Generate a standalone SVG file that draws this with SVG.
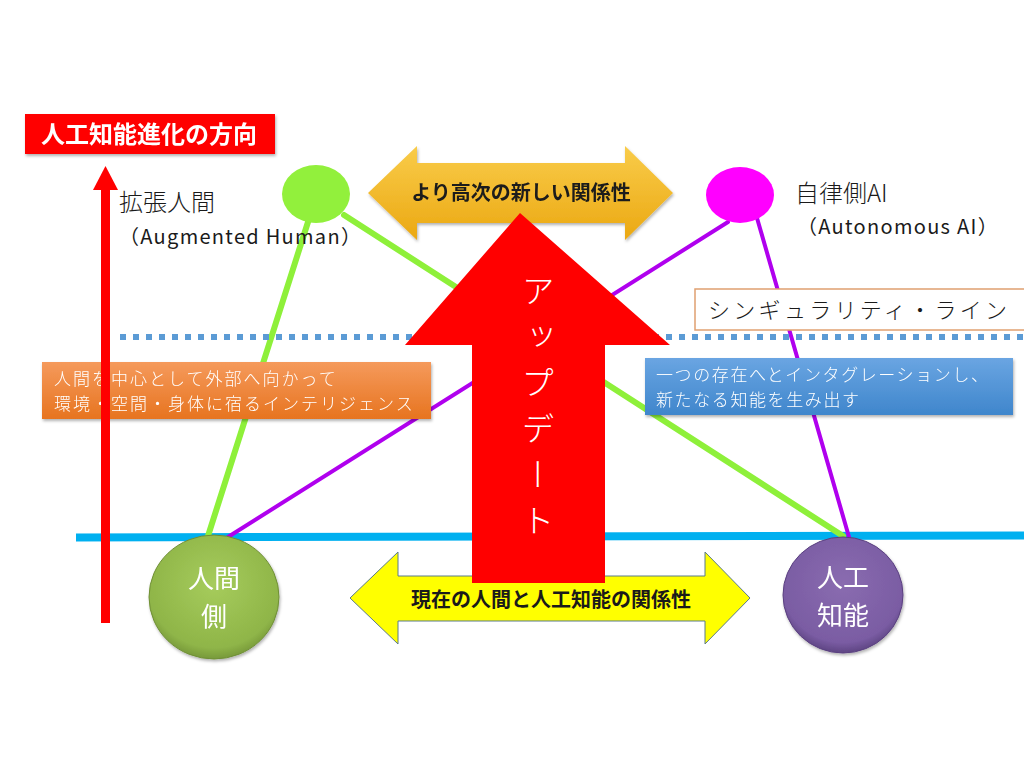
<svg xmlns="http://www.w3.org/2000/svg" width="1024" height="768" viewBox="0 0 1024 768">
<defs>
  <linearGradient id="gOrange" x1="0" y1="0" x2="0" y2="1">
    <stop offset="0" stop-color="#f59a5c"/>
    <stop offset="1" stop-color="#e7741f"/>
  </linearGradient>
  <linearGradient id="gBlue" x1="0" y1="0" x2="0" y2="1">
    <stop offset="0" stop-color="#6aa5e2"/>
    <stop offset="1" stop-color="#3f86cc"/>
  </linearGradient>
  <linearGradient id="gGold" x1="0" y1="0" x2="0" y2="1">
    <stop offset="0" stop-color="#f9cc4a"/>
    <stop offset="1" stop-color="#eba812"/>
  </linearGradient>
  <radialGradient id="gGreen" cx="0.5" cy="0.4" r="0.6">
    <stop offset="0" stop-color="#a6cc5c"/>
    <stop offset="0.85" stop-color="#8fb548"/>
    <stop offset="1" stop-color="#77993a"/>
  </radialGradient>
  <radialGradient id="gPurple" cx="0.5" cy="0.4" r="0.6">
    <stop offset="0" stop-color="#8a6cb0"/>
    <stop offset="0.85" stop-color="#7a5ca3"/>
    <stop offset="1" stop-color="#5e4583"/>
  </radialGradient>
  <filter id="shadow" x="-10%" y="-10%" width="120%" height="130%">
    <feDropShadow dx="1" dy="2" stdDeviation="1.5" flood-color="#000" flood-opacity="0.3"/>
  </filter>
</defs>
<style>
  .jp { font-family: "Noto Sans CJK JP", "Noto Sans", sans-serif; }
  .bold { font-weight: 700; }
  .lite { font-weight: 300; }
  .green { stroke: #8ef03a; stroke-width: 6; stroke-linecap: round; }
  .purple { stroke: #b000ee; stroke-width: 4; stroke-linecap: round; }
</style>
<rect width="1024" height="768" fill="#ffffff"/>

<g id="lines">
  <line x1="76" y1="537.5" x2="1024" y2="535.5" stroke="#00b0f0" stroke-width="8"/>
  <line x1="308" y1="222" x2="208" y2="536" class="green"/>
  <line x1="344" y1="215" x2="843" y2="536" class="green"/>
  <line x1="728" y1="222" x2="228" y2="537" class="purple"/>
  <line x1="757" y1="218" x2="849" y2="537" class="purple"/>
  <line x1="120" y1="337" x2="1024" y2="337" stroke="#5b9bd5" stroke-width="6" stroke-dasharray="6 7"/>
</g>

<g id="orange-box" filter="url(#shadow)">
  <rect x="42" y="362" width="389" height="57" fill="url(#gOrange)"/>
  <text class="jp lite" font-size="17" fill="#ffffff" letter-spacing="2"><tspan x="54" y="385">人間を中心として外部へ向かって</tspan><tspan x="54" y="410">環境・空間・身体に宿るインテリジェンス</tspan></text>
</g>

<g id="blue-box" filter="url(#shadow)">
  <rect x="645" y="358" width="368" height="57" fill="url(#gBlue)"/>
  <text class="jp lite" font-size="17" fill="#ffffff" letter-spacing="1.6"><tspan x="656" y="381">一つの存在へとインタグレーションし、</tspan><tspan x="656" y="406">新たなる知能を生み出す</tspan></text>
</g>

<g id="direction-arrow">
  <rect x="101" y="188" width="9" height="435" fill="#ff0000"/>
  <polygon points="105.5,166 93,190 118,190" fill="#ff0000"/>
</g>

<g id="title" filter="url(#shadow)">
  <rect x="25" y="114" width="250" height="40" fill="#ff0000"/>
  <text class="jp bold" x="149" y="143" font-size="24" fill="#ffffff" text-anchor="middle">人工知能進化の方向</text>
</g>

<g id="augmented-node">
  <ellipse cx="316" cy="194" rx="34" ry="29" fill="#92f03c"/>
  <text class="jp" fill="#1a1a1a"><tspan class="lite" x="119" y="211" font-size="24">拡張人間</tspan><tspan x="119" y="244" font-size="20" letter-spacing="1.3">（Augmented Human）</tspan></text>
</g>

<g id="autonomous-node">
  <ellipse cx="740" cy="195" rx="34" ry="28" fill="#ff00ff"/>
  <text class="jp" fill="#1a1a1a"><tspan class="lite" x="795" y="202" font-size="24">自律側AI</tspan><tspan x="797" y="234" font-size="20" letter-spacing="1.3">（Autonomous AI）</tspan></text>
</g>

<g id="singularity-label">
  <rect x="695" y="289" width="335" height="41" fill="#ffffff" stroke="#e0a070" stroke-width="1.5"/>
  <text class="jp lite" x="708" y="318" font-size="22" fill="#1a1a1a" letter-spacing="3.3">シンギュラリティ・ライン</text>
</g>

<g id="higher-relation" filter="url(#shadow)">
  <polygon points="368,193 417,146 417,163 625,163 625,146 673,193 625,240 625,223 417,223 417,240" fill="url(#gGold)"/>
  <text class="jp bold" x="521" y="200" font-size="20" fill="#1a1a1a" text-anchor="middle">より高次の新しい関係性</text>
</g>

<g id="current-relation">
  <polygon points="350,598 398,552 398,576 705,576 705,552 750,598 705,644 705,621 398,621 398,644" fill="#ffff00" stroke="#5a7a8a" stroke-width="1"/>
  <text class="jp bold" x="551" y="607" font-size="20" fill="#1a1a1a" text-anchor="middle">現在の人間と人工知能の関係性</text>
</g>

<g id="update-arrow">
  <polygon points="520,213 670,345 605,345 605,583 472,583 472,345 405,345" fill="#ff0000"/>
  <text class="jp lite" x="538" y="274" font-size="33" fill="#ffffff" letter-spacing="13" style="writing-mode: vertical-rl;">アップデート</text>
</g>

<g id="human-node" filter="url(#shadow)">
  <ellipse cx="214" cy="597" rx="65" ry="62" fill="url(#gGreen)" stroke="#6f8f35" stroke-width="1"/>
  <text class="jp" font-size="26" fill="#ffffff" text-anchor="middle"><tspan x="214" y="588">人間</tspan><tspan x="214" y="626">側</tspan></text>
</g>

<g id="ai-node" filter="url(#shadow)">
  <ellipse cx="843" cy="595" rx="60" ry="58" fill="url(#gPurple)" stroke="#5a4080" stroke-width="1"/>
  <text class="jp" font-size="26" fill="#ffffff" text-anchor="middle"><tspan x="843" y="587">人工</tspan><tspan x="843" y="625">知能</tspan></text>
</g>
</svg>
